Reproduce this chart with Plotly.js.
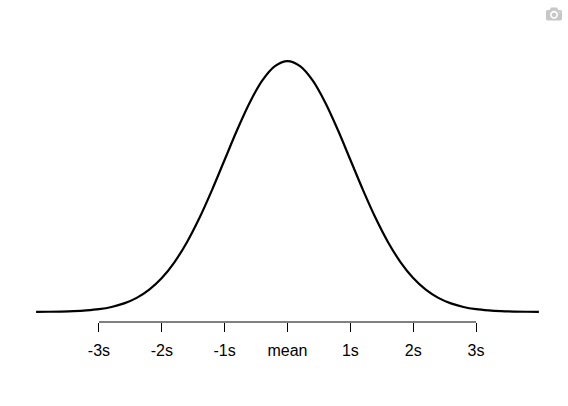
<!DOCTYPE html>
<html>
<head>
<meta charset="utf-8">
<script src="https://cdn.plot.ly/plotly-3.0.1.min.js"></script>
<style>html,body{margin:0;padding:0;background:#fff;}#chart{width:568px;height:406px;}</style>
</head>
<body>
<div id="chart"></div>
<script>
// Curve (x in standard deviations, y = height of the curve)
var curveX = [-4.0,-3.8,-3.6,-3.4,-3.2,-3.0,-2.8,-2.6,-2.4,-2.2,-2.0,-1.8,-1.6,-1.4,-1.2,-1.0,-0.8,-0.6,-0.4,-0.2,0.0,
              0.2,0.4,0.6,0.8,1.0,1.2,1.4,1.6,1.8,2.0,2.2,2.4,2.6,2.8,3.0,3.2,3.4,3.6,3.8,4.0];
var curveY = [0.0001,0.0003,0.0006,0.0012,0.0024,0.0044,0.0079,0.0136,0.0224,0.0355,0.0540,0.0790,0.1109,0.1497,0.1942,0.2420,0.2897,0.3332,0.3683,0.3910,0.3989,
              0.3910,0.3683,0.3332,0.2897,0.2420,0.1942,0.1497,0.1109,0.0790,0.0540,0.0355,0.0224,0.0136,0.0079,0.0044,0.0024,0.0012,0.0006,0.0003,0.0001];
var tickVals = [-3,-2,-1,0,1,2,3];
var tickLabels = ['-3s','-2s','-1s','mean','1s','2s','3s'];

var trace = {
  x: curveX, y: curveY, type: 'scatter', mode: 'lines',
  line: {color: '#000000', width: 2.2, shape: 'spline', smoothing: 1},
  hoverinfo: 'x+y', showlegend: false
};

var layout = {
  width: 568, height: 406,
  margin: {l: 16, r: 9, t: 51, b: 84},
  paper_bgcolor: '#ffffff', plot_bgcolor: '#ffffff',
  font: {family: 'Liberation Sans, Arial, sans-serif', size: 16, color: '#000000'},
  xaxis: {
    range: [-4.32, 4.32],
    showgrid: false, zeroline: false, showline: false,
    tickmode: 'array', tickvals: tickVals, ticktext: tickLabels,
    ticks: 'outside', ticklen: 9, tickwidth: 1, tickcolor: '#000000',
    tickfont: {size: 16, color: '#000000'},
    ticklabelstandoff: 5,
    fixedrange: true
  },
  yaxis: {
    range: [-0.016, 0.415],
    visible: false, showgrid: false, zeroline: false, fixedrange: true
  },
  shapes: [{
    type: 'line', xref: 'x', yref: 'paper',
    x0: tickVals[0], x1: tickVals[tickVals.length - 1], y0: 0, y1: 0,
    line: {color: '#000000', width: 1}
  }]
};

Plotly.newPlot('chart', [trace], layout, {displayModeBar: true, displaylogo: false, responsive: false});
</script>
</body>
</html>
